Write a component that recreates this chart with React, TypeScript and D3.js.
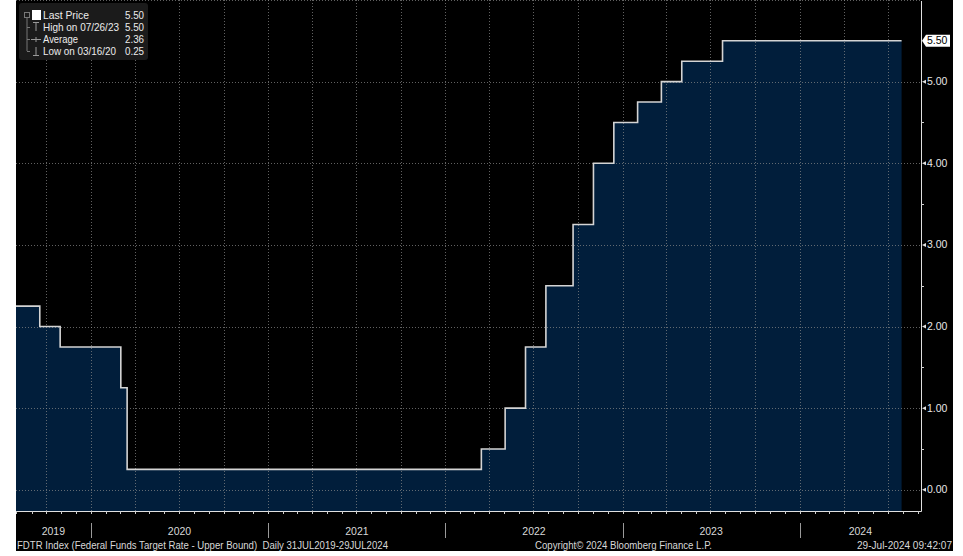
import React, { useEffect, useRef } from 'react';
import * as d3 from 'd3';

// FDTR upper bound, date of each change and the new level
const changeDates = [
  '2019-07-31', '2019-09-18', '2019-10-30', '2020-03-03', '2020-03-16',
  '2022-03-16', '2022-05-04', '2022-06-15', '2022-07-27', '2022-09-21',
  '2022-11-02', '2022-12-14', '2023-02-01', '2023-03-22', '2023-05-03',
  '2023-07-26', '2024-07-29',
];
const rates = [
  2.25, 2.0, 1.75, 1.25, 0.25,
  0.5, 1.0, 1.75, 2.5, 3.25,
  4.0, 4.5, 4.75, 5.0, 5.25,
  5.5, 5.5,
];
const yTicks = [0, 1, 2, 3, 4, 5];
const yMinorTicks = [0.5, 1.5, 2.5, 3.5, 4.5];
const yearLabels = ['2019', '2020', '2021', '2022', '2023', '2024'];
const legendLabels = ['Last Price', 'High on 07/26/23', 'Average', 'Low on 03/16/20'];
const legendValues = ['5.50', '5.50', '2.36', '0.25'];

const FONT = '"Liberation Sans", Arial, sans-serif';

function App() {
  const svgRef = useRef<SVGSVGElement | null>(null);

  useEffect(() => {
    if (!svgRef.current) return;
    const svg = d3.select(svgRef.current);
    svg.selectAll('*').remove();

    const width = 963;
    const height = 556;
    const left = 16;
    const right = 921;
    const top = 0;
    const bottom = 511;

    const parse = d3.timeParse('%Y-%m-%d');
    const data = changeDates.map((d, i) => ({ date: parse(d) as Date, value: rates[i] }));

    const x = d3.scaleTime()
      .domain([parse('2019-07-31') as Date, parse('2024-09-07') as Date])
      .range([left, right]);
    const y = d3.scaleLinear().domain([-0.26, 6.0]).range([bottom, top]);

    svg.attr('width', width).attr('height', height).style('font-family', FONT);

    // white page + black panel
    svg.append('rect').attr('width', width).attr('height', height).attr('fill', '#fff');
    svg.append('rect').attr('x', left).attr('y', 0)
      .attr('width', 953 - left).attr('height', 551).attr('fill', '#000');

    // area + step line
    const area = d3.area<{ date: Date; value: number }>()
      .x(d => x(d.date))
      .y0(bottom)
      .y1(d => y(d.value))
      .curve(d3.curveStepAfter);
    const line = d3.line<{ date: Date; value: number }>()
      .x(d => x(d.date))
      .y(d => y(d.value))
      .curve(d3.curveStepAfter);

    svg.append('path').datum(data).attr('d', area).attr('fill', '#011e3b');

    // grid
    const grid = svg.append('g').attr('stroke', '#8a8a8a').attr('stroke-opacity', 0.7)
      .attr('stroke-dasharray', '1,2').attr('stroke-width', 1);
    [...yTicks, 6].forEach(v => {
      const yy = Math.round(y(v)) + 0.5;
      grid.append('line').attr('x1', left).attr('x2', right).attr('y1', yy).attr('y2', yy);
    });
    const quarters = d3.timeMonth.range(x.domain()[0], x.domain()[1])
      .filter(d => d.getMonth() % 3 === 0);
    quarters.forEach(d => {
      const xx = Math.round(x(d)) + 0.5;
      grid.append('line').attr('x1', xx).attr('x2', xx).attr('y1', top).attr('y2', bottom);
    });

    svg.append('path').datum(data).attr('d', line)
      .attr('fill', 'none').attr('stroke', '#d4d4d4').attr('stroke-width', 1.6);

    // axes lines
    svg.append('line').attr('x1', left).attr('x2', right + 0.5)
      .attr('y1', bottom + 0.5).attr('y2', bottom + 0.5).attr('stroke', '#e0e0e0');
    svg.append('line').attr('x1', right + 0.5).attr('x2', right + 0.5)
      .attr('y1', 1).attr('y2', bottom + 0.5).attr('stroke', '#e0e0e0');

    // monthly ticks on x axis
    d3.timeMonth.range(x.domain()[0], x.domain()[1]).forEach(d => {
      const xx = Math.round(x(d)) + 0.5;
      svg.append('line').attr('x1', xx).attr('x2', xx)
        .attr('y1', bottom).attr('y2', bottom + 3).attr('stroke', '#cfcfcf');
    });

    // y axis ticks & labels
    yMinorTicks.forEach(v => {
      const yy = Math.round(y(v)) + 0.5;
      svg.append('line').attr('x1', right).attr('x2', right + 3)
        .attr('y1', yy).attr('y2', yy).attr('stroke', '#d0d0d0');
    });
    yTicks.forEach(v => {
      const yy = y(v);
      svg.append('path')
        .attr('d', `M${right + 1},${yy} L${right + 5},${yy - 2} L${right + 5},${yy + 2} Z`)
        .attr('fill', '#e0e0e0');
      svg.append('text').attr('x', right + 6).attr('y', yy + 3.5)
        .attr('font-size', 10.5).attr('fill', '#e6e6e6').text(d3.format('.2f')(v));
    });

    // last price tag
    const ly = y(rates[rates.length - 1]);
    svg.append('path')
      .attr('d', `M${right + 1},${ly} L${right + 5},${ly - 6} L${right + 29},${ly - 6} L${right + 29},${ly + 6} L${right + 5},${ly + 6} Z`)
      .attr('fill', '#fff');
    svg.append('text').attr('x', right + 6).attr('y', ly + 3.5)
      .attr('font-size', 10.5).attr('fill', '#000').text(d3.format('.2f')(rates[rates.length - 1]));

    // year labels and separators
    yearLabels.forEach(yr => {
      const start = Math.max(x(parse(`${yr}-01-01`) as Date), left);
      const end = Math.min(x(parse(`${+yr + 1}-01-01`) as Date), right);
      svg.append('text').attr('x', (start + end) / 2).attr('y', 535)
        .attr('text-anchor', 'middle').attr('font-size', 10.5).attr('fill', '#d8d8d8').text(yr);
      if (start > left) {
        const xx = Math.round(start) + 0.5;
        svg.append('line').attr('x1', xx).attr('x2', xx).attr('y1', 523).attr('y2', 538)
          .attr('stroke', '#9a9a9a');
      }
    });

    // footer texts
    svg.append('text').attr('x', 17).attr('y', 549).attr('font-size', 10).attr('fill', '#d8d8d8')
      .attr('textLength', 371).attr('lengthAdjust', 'spacingAndGlyphs')
      .style('white-space', 'pre')
      .text('FDTR Index (Federal Funds Target Rate - Upper Bound)  Daily 31JUL2019-29JUL2024');
    svg.append('text').attr('x', 535).attr('y', 549).attr('font-size', 10).attr('fill', '#d8d8d8')
      .attr('textLength', 177).attr('lengthAdjust', 'spacingAndGlyphs')
      .text('Copyright© 2024 Bloomberg Finance L.P.');
    svg.append('text').attr('x', 857).attr('y', 549).attr('font-size', 10).attr('fill', '#d8d8d8')
      .attr('textLength', 95).attr('lengthAdjust', 'spacingAndGlyphs')
      .text('29-Jul-2024 09:42:07');

    // legend
    const lg = svg.append('g');
    lg.append('rect').attr('x', 19).attr('y', 3).attr('width', 129).attr('height', 57)
      .attr('rx', 3).attr('fill', '#1b1b1b');
    const rowY = [15, 27, 39, 51];
    lg.append('rect').attr('x', 24.5).attr('y', 12.5).attr('width', 5).attr('height', 5)
      .attr('fill', 'none').attr('stroke', '#777');
    lg.append('line').attr('x1', 27).attr('x2', 27).attr('y1', 18).attr('y2', rowY[3])
      .attr('stroke', '#777');
    rowY.slice(1).forEach(r => {
      lg.append('line').attr('x1', 27).attr('x2', 30).attr('y1', r + 0.5).attr('y2', r + 0.5)
        .attr('stroke', '#777');
    });
    lg.append('rect').attr('x', 32).attr('y', 10).attr('width', 9).attr('height', 10).attr('fill', '#fff');
    // high icon
    lg.append('path').attr('d', `M33,${rowY[1] - 4.5} H39 M36,${rowY[1] - 4.5} V${rowY[1] + 4}`)
      .attr('stroke', '#999').attr('fill', 'none');
    // average icon
    lg.append('path').attr('d', `M31,${rowY[2] + 0.5} H41 M36,${rowY[2] - 2} V${rowY[2] + 3}`)
      .attr('stroke', '#999').attr('fill', 'none');
    // low icon
    lg.append('path').attr('d', `M33,${rowY[3] + 4.5} H39 M36,${rowY[3] - 4} V${rowY[3] + 4.5}`)
      .attr('stroke', '#999').attr('fill', 'none');
    const labelWidths = [46, 76, 35, 73];
    legendLabels.forEach((t, i) => {
      lg.append('text').attr('x', 43).attr('y', rowY[i] + 4).attr('font-size', 11)
        .attr('textLength', labelWidths[i]).attr('lengthAdjust', 'spacingAndGlyphs')
        .attr('fill', '#ececec').text(t);
      lg.append('text').attr('x', 125).attr('y', rowY[i] + 4).attr('font-size', 11)
        .attr('textLength', 19).attr('lengthAdjust', 'spacingAndGlyphs')
        .attr('fill', '#ececec').text(legendValues[i]);
    });
  }, []);

  return (
    <div style={{ position: 'absolute', left: 0, top: 0 }}>
      <svg ref={svgRef} style={{ display: 'block' }}></svg>
    </div>
  );
}

export default App;
